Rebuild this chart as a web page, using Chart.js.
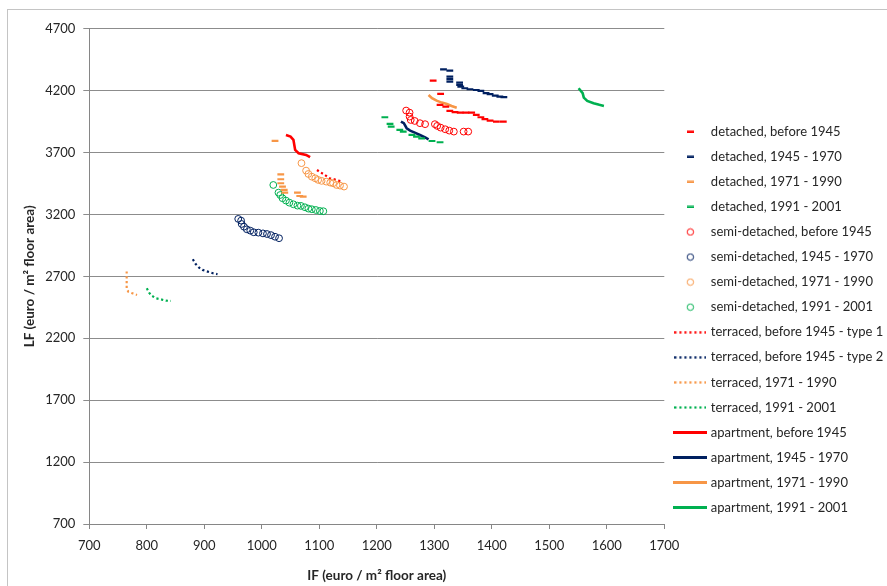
<!DOCTYPE html>
<html>
<head>
<meta charset="utf-8">
<script src="https://cdn.jsdelivr.net/npm/chart.js@4.4.1/dist/chart.umd.min.js"></script>
<style>
    html, body { margin: 0; padding: 0; background: #fff; overflow: hidden; }
    #wrap  { position: relative; width: 887px; height: 586px; }
    #frame { position: absolute; left: 7px; top: 9px; width: 1000px; height: 1000px; border: 1px solid #c4c4c4; }
    #chart { position: absolute; left: 0; top: 0; }
</style>
</head>
<body>
<div id="wrap">
    <div id="frame"></div>
    <canvas id="chart" width="887" height="586"></canvas>
</div>
<script>
// ═══ 데이터 ═══
const xTicks = [700, 800, 900, 1000, 1100, 1200, 1300, 1400, 1500, 1600, 1700];
const yTicks = [700, 1200, 1700, 2200, 2700, 3200, 3700, 4200, 4700];

const detachedBefore1945 = [[1298,4281],[1311,4173],[1310,4085],[1320,4071],[1327,4036],[1336,4026],[1345,4022],[1355,4022],[1365,4022],[1373,4004],[1381,3985],[1388,3969],[1397,3958],[1408,3950],[1420,3950]];
const detached1945_1970  = [[1316,4372],[1327,4362],[1327,4313],[1327,4292],[1327,4273],[1344,4265],[1344,4246],[1346,4233],[1353,4219],[1362,4211],[1373,4205],[1381,4198],[1390,4179],[1397,4171],[1406,4160],[1414,4151],[1421,4147]];
const detached1971_1990  = [[1023,3794],[1033,3524],[1033,3484],[1033,3452],[1036,3425],[1039,3398],[1040,3376],[1062,3376],[1066,3349],[1072,3344]];
const detached1991_2001  = [[1214,3985],[1223,3931],[1225,3909],[1240,3883],[1246,3869],[1261,3842],[1269,3829],[1278,3815],[1296,3793],[1310,3783]];

const semiBefore1945 = [[1251,4039],[1257,4022],[1257,3990],[1259,3963],[1266,3955],[1275,3937],[1284,3929],[1301,3929],[1305,3915],[1311,3901],[1319,3888],[1326,3877],[1334,3869],[1351,3869],[1359,3869]];
const semi1945_1970  = [[959,3164],[964,3150],[965,3123],[969,3101],[974,3080],[980,3069],[986,3056],[994,3053],[1002,3047],[1009,3042],[1016,3033],[1023,3020],[1030,3008]];
const semi1971_1990  = [[1069,3614],[1077,3554],[1081,3527],[1087,3505],[1093,3492],[1098,3479],[1104,3471],[1112,3465],[1119,3457],[1124,3452],[1130,3438],[1136,3433],[1143,3425]];
const semi1991_2001  = [[1020,3438],[1029,3376],[1032,3357],[1036,3331],[1042,3312],[1048,3295],[1055,3282],[1062,3271],[1068,3269],[1075,3258],[1081,3247],[1087,3242],[1094,3236],[1101,3228],[1107,3226]];

const terracedType1     = [[1096,3559],[1102,3540],[1108,3524],[1118,3492],[1126,3484],[1133,3473],[1141,3465]];
const terracedType2     = [[880,2838],[885,2800],[891,2770],[897,2752],[906,2738],[915,2725],[923,2717]];
const terraced1971_1990 = [[765,2740],[765,2700],[765,2650],[765,2600],[768,2575],[775,2563],[783,2550]];
const terraced1991_2001 = [[800,2604],[804,2568],[809,2542],[816,2523],[824,2515],[833,2504],[842,2501]];

const apartmentBefore1945 = [[1042,3842],[1050,3829],[1055,3802],[1058,3721],[1064,3694],[1077,3681],[1084,3662]];
const apartment1945_1970  = [[1242,3950],[1247,3937],[1252,3896],[1258,3877],[1266,3861],[1275,3842],[1284,3823],[1290,3807]];
const apartment1971_1990  = [[1290,4165],[1296,4139],[1304,4119],[1313,4103],[1322,4092],[1330,4076],[1339,4062]];
const apartment1991_2001  = [[1551,4219],[1558,4179],[1560,4143],[1566,4117],[1577,4098],[1587,4085],[1595,4076]];

// ═══ 스타일 ═══
const RED = '#ff0000', NAVY = '#002060', ORANGE = '#f79646', GREEN = '#00b050';
const AXIS = '#868686', GRID = '#8c8c8c', TXT = '#262626';

const toXY = pts => pts.map(([x, y]) => ({ x, y }));

function dashSet(label, pts, color) {
    return { label, data: toXY(pts), showLine: false, pointStyle: 'line',
             pointRadius: 3.4, pointBorderWidth: 2.2, borderColor: color, backgroundColor: color, _icon: 'dash' };
}
function circleSet(label, pts, color) {
    return { label, data: toXY(pts), showLine: false, pointStyle: 'circle',
             pointRadius: 3.4, pointBorderWidth: 1, borderColor: color, backgroundColor: 'transparent', _icon: 'circle' };
}
function lineSet(label, pts, color, dotted) {
    return { label, data: toXY(pts), showLine: true, pointRadius: 0, borderWidth: dotted ? 2.2 : 2.6,
             borderDash: dotted ? [2.2, 2.6] : [], borderColor: color, backgroundColor: color,
             _icon: dotted ? 'dotted' : 'solid' };
}

const datasets = [
    dashSet('detached, before 1945', detachedBefore1945, RED),
    dashSet('detached, 1945 - 1970', detached1945_1970, NAVY),
    dashSet('detached, 1971 - 1990', detached1971_1990, ORANGE),
    dashSet('detached, 1991 - 2001', detached1991_2001, GREEN),
    circleSet('semi-detached, before 1945', semiBefore1945, RED),
    circleSet('semi-detached, 1945 - 1970', semi1945_1970, NAVY),
    circleSet('semi-detached, 1971 - 1990', semi1971_1990, ORANGE),
    circleSet('semi-detached, 1991 - 2001', semi1991_2001, GREEN),
    lineSet('terraced, before 1945 - type 1', terracedType1, RED, true),
    lineSet('terraced, before 1945 - type 2', terracedType2, NAVY, true),
    lineSet('terraced, 1971 - 1990', terraced1971_1990, ORANGE, true),
    lineSet('terraced, 1991 - 2001', terraced1991_2001, GREEN, true),
    lineSet('apartment, before 1945', apartmentBefore1945, RED, false),
    lineSet('apartment, 1945 - 1970', apartment1945_1970, NAVY, false),
    lineSet('apartment, 1971 - 1990', apartment1971_1990, ORANGE, false),
    lineSet('apartment, 1991 - 2001', apartment1991_2001, GREEN, false)
];

/**
 * 범례 아이콘 (엑셀식 마커/선 모양)
 */
function makeIcon(kind, color) {
    const c = document.createElement('canvas');
    if (kind === 'dash')   { c.width = 7;  c.height = 3; }
    if (kind === 'circle') { c.width = 9;  c.height = 9; }
    if (kind === 'dotted') { c.width = 32; c.height = 3; }
    if (kind === 'solid')  { c.width = 34; c.height = 3; }
    const g = c.getContext('2d');
    g.fillStyle = color;
    g.strokeStyle = color;
    if (kind === 'dash')  g.fillRect(0, 0.5, 7, 2.5);
    if (kind === 'solid') g.fillRect(0, 0, 34, 3);
    if (kind === 'dotted') {
        for (let k = 0; k < 7; k++) g.fillRect(k * 5, 0.4, 2.2, 2.2);
    }
    if (kind === 'circle') {
        g.lineWidth = 1;
        g.beginPath();
        g.arc(4.5, 4.5, 3.2, 0, Math.PI * 2);
        g.stroke();
    }
    return c;
}
const legendIcons = datasets.map(d => makeIcon(d._icon, d.borderColor));

Chart.defaults.font.family = 'Lato';

new Chart(document.getElementById('chart'), {
    type: 'scatter',
    data: { datasets },
    options: {
        responsive: false,
        animation: false,
        layout: { padding: { top: 28.7, right: 0, bottom: 0, left: 0 } },
        plugins: {
            tooltip: { enabled: false },
            legend: {
                position: 'right',
                align: 'start',
                maxWidth: 222.7,
                title: { display: true, text: '', font: { size: 12 }, padding: { top: 70.0, bottom: 0 } },
                labels: {
                    usePointStyle: true,
                    pointStyleWidth: 28,
                    padding: 12.07,
                    color: TXT,
                    font: { family: 'Lato', size: 13 },
                    generateLabels: chart => chart.data.datasets.map((ds, i) => ({
                        text: ds.label,
                        pointStyle: legendIcons[i],
                        fillStyle: 'transparent',
                        strokeStyle: 'transparent',
                        lineWidth: 0,
                        fontColor: TXT,
                        hidden: false,
                        datasetIndex: i
                    }))
                }
            }
        },
        scales: {
            x: {
                type: 'linear',
                min: 700,
                max: 1700,
                afterBuildTicks: s => { s.ticks = xTicks.map(v => ({ value: v })); },
                afterFit: s => { s.height = 62; },
                grid: { drawOnChartArea: false, drawTicks: true, tickLength: 5, color: AXIS },
                border: { color: AXIS, width: 1 },
                ticks: { padding: 9, color: TXT, font: { size: 13 }, callback: v => String(v) },
                title: {
                    display: true,
                    text: 'IF (euro / m² floor area)',
                    color: TXT,
                    font: { size: 13.5, weight: 'bold' },
                    padding: { top: 0, bottom: 1.9 }
                }
            },
            y: {
                type: 'linear',
                min: 700,
                max: 4700,
                afterBuildTicks: s => { s.ticks = yTicks.map(v => ({ value: v })); },
                afterFit: s => { s.width = 89.3; },
                grid: { color: GRID, tickLength: 6 },
                border: { color: AXIS, width: 1 },
                ticks: { padding: 8, color: TXT, font: { size: 13 }, callback: v => String(v) },
                title: {
                    display: true,
                    text: 'LF (euro / m² floor area)',
                    color: TXT,
                    font: { size: 13.5, weight: 'bold' },
                    padding: { top: 21.4, bottom: 0 }
                }
            }
        }
    }
});
</script>
</body>
</html>
